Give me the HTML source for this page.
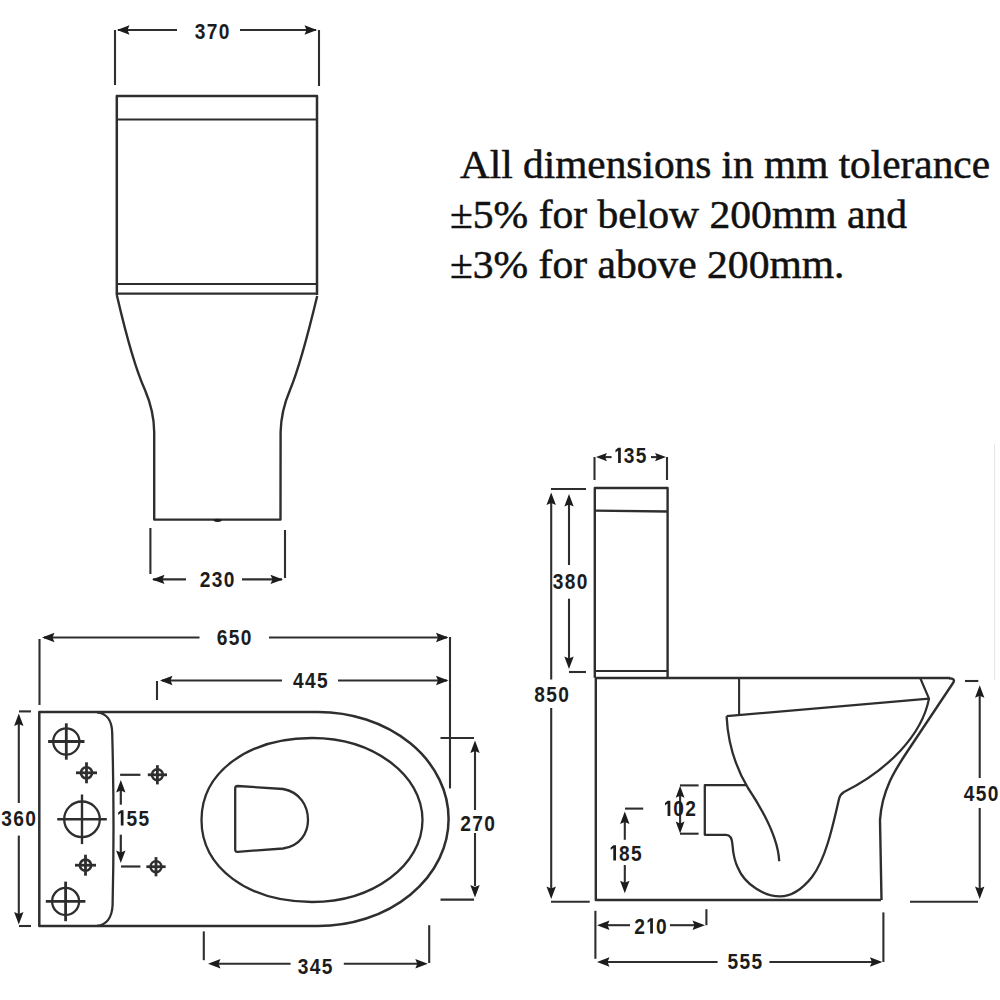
<!DOCTYPE html>
<html><head><meta charset="utf-8"><style>
html,body{margin:0;padding:0;background:#fff;}
svg{display:block;}
text{fill:#1c1c1c;stroke:none;font-family:"Liberation Sans",sans-serif;font-weight:bold;}
text.n{font-family:"Liberation Serif",serif;font-weight:normal;stroke:#111;stroke-width:0.5px;fill:#111;}
</style></head><body>
<svg width="1000" height="1000" viewBox="0 0 1000 1000" stroke="#2e2e2e" fill="none" stroke-linecap="butt" stroke-linejoin="round">
<line x1="115" y1="30" x2="115" y2="85" stroke-width="2.1"/>
<line x1="319" y1="30" x2="319" y2="86" stroke-width="2.1"/>
<line x1="118" y1="30" x2="177" y2="30" stroke-width="2.1"/>
<line x1="240" y1="30" x2="316" y2="30" stroke-width="2.1"/>
<polygon points="117.0,30.0 129.5,25.3 127.5,30.0 129.5,34.7" fill="#1c1c1c" stroke="none"/>
<polygon points="317.0,30.0 304.5,34.7 306.5,30.0 304.5,25.3" fill="#1c1c1c" stroke="none"/>
<text transform="translate(200.00,39.3) scale(0.87,1)" font-size="22" text-anchor="middle">3</text>
<text transform="translate(212.00,39.3) scale(0.87,1)" font-size="22" text-anchor="middle">7</text>
<text transform="translate(224.00,39.3) scale(0.87,1)" font-size="22" text-anchor="middle">0</text>
<path d="M116.8,295 L116.8,96 L317,96 L317,295" stroke-width="2.5" fill="none"/>
<line x1="116.8" y1="119.5" x2="317" y2="119.5" stroke-width="2.1"/>
<line x1="116.8" y1="284" x2="317" y2="284" stroke-width="2.1"/>
<path d="M116.8,293.6 L317,293.6" stroke-width="2.1" fill="none"/>
<path d="M116.8,295 C124,326 134,366 145,390 C151,404 154,416 154.2,432 L154.2,519.6 L280.5,519.6 L280.6,432 C281,416 284,404 290,390 C300,366 310,326 317.2,296" stroke-width="2.4" fill="none"/>
<ellipse cx="217.6" cy="520.3" rx="4" ry="1.6" fill="#1c1c1c" stroke="none"/>
<line x1="150.4" y1="528" x2="150.4" y2="574" stroke-width="2.1"/>
<line x1="285" y1="530" x2="285" y2="578" stroke-width="2.1"/>
<line x1="153" y1="579.4" x2="186" y2="579.4" stroke-width="2.1"/>
<line x1="242" y1="579.4" x2="282" y2="579.4" stroke-width="2.1"/>
<polygon points="152.0,579.4 164.5,574.7 162.5,579.4 164.5,584.1" fill="#1c1c1c" stroke="none"/>
<polygon points="283.0,579.4 270.5,584.1 272.5,579.4 270.5,574.7" fill="#1c1c1c" stroke="none"/>
<text transform="translate(205.00,587) scale(0.87,1)" font-size="22" text-anchor="middle">2</text>
<text transform="translate(217.00,587) scale(0.87,1)" font-size="22" text-anchor="middle">3</text>
<text transform="translate(229.00,587) scale(0.87,1)" font-size="22" text-anchor="middle">0</text>
<line x1="994.6" y1="444" x2="994.6" y2="680" stroke="#e4e4e4" stroke-width="1"/>
<text class="n" x="460" y="178" font-size="39" textLength="530" lengthAdjust="spacingAndGlyphs">All dimensions in mm tolerance</text>
<text class="n" x="450" y="228" font-size="39" textLength="457" lengthAdjust="spacingAndGlyphs">±5% for below 200mm and</text>
<text class="n" x="450" y="278" font-size="39" textLength="394.5" lengthAdjust="spacingAndGlyphs">±3% for above 200mm.</text>
<line x1="39.5" y1="639" x2="39.5" y2="705" stroke-width="2.1"/>
<line x1="44" y1="637.5" x2="199.5" y2="637.5" stroke-width="2.1"/>
<line x1="269" y1="637.5" x2="447" y2="637.5" stroke-width="2.1"/>
<polygon points="42.0,637.5 54.5,632.8 52.5,637.5 54.5,642.2" fill="#1c1c1c" stroke="none"/>
<polygon points="448.5,637.5 436.0,642.2 438.0,637.5 436.0,632.8" fill="#1c1c1c" stroke="none"/>
<text transform="translate(222.00,644.5) scale(0.87,1)" font-size="22" text-anchor="middle">6</text>
<text transform="translate(234.00,644.5) scale(0.87,1)" font-size="22" text-anchor="middle">5</text>
<text transform="translate(246.00,644.5) scale(0.87,1)" font-size="22" text-anchor="middle">0</text>
<line x1="450" y1="637" x2="450" y2="788.4" stroke-width="2.1"/>
<line x1="157" y1="681" x2="157" y2="700" stroke-width="2.1"/>
<line x1="162" y1="680.5" x2="282" y2="680.5" stroke-width="2.1"/>
<line x1="338" y1="680.5" x2="447" y2="680.5" stroke-width="2.1"/>
<polygon points="160.0,680.5 172.5,675.8 170.5,680.5 172.5,685.2" fill="#1c1c1c" stroke="none"/>
<polygon points="448.5,680.5 436.0,685.2 438.0,680.5 436.0,675.8" fill="#1c1c1c" stroke="none"/>
<text transform="translate(298.20,688) scale(0.87,1)" font-size="22" text-anchor="middle">4</text>
<text transform="translate(310.20,688) scale(0.87,1)" font-size="22" text-anchor="middle">4</text>
<text transform="translate(322.20,688) scale(0.87,1)" font-size="22" text-anchor="middle">5</text>
<path d="M39.3,712 L318,712 A130.6,107 0 0 1 318,926 L39.3,926 Z" stroke-width="2.5" fill="none"/>
<path d="M97,712.3 C106,713 112,720 112.2,733 Q114.6,820 112.6,905 C112,918 106,925 97,925.8" stroke-width="2.3" fill="none"/>
<circle cx="66.3" cy="741.5" r="13.1" stroke-width="2.3"/>
<line x1="48.099999999999994" y1="741.5" x2="84.5" y2="741.5" stroke-width="2.8"/>
<line x1="66.3" y1="723.3" x2="66.3" y2="759.7" stroke-width="2.8"/>
<circle cx="82" cy="819.3" r="17.8" stroke-width="2.3"/>
<line x1="57.2" y1="819.3" x2="106.8" y2="819.3" stroke-width="2.4"/>
<line x1="82" y1="794.5" x2="82" y2="844.0999999999999" stroke-width="2.4"/>
<circle cx="65.6" cy="901.4" r="13.5" stroke-width="2.3"/>
<line x1="45.8" y1="901.4" x2="85.39999999999999" y2="901.4" stroke-width="2.8"/>
<line x1="65.6" y1="881.6" x2="65.6" y2="921.1999999999999" stroke-width="2.8"/>
<circle cx="86.5" cy="772.8" r="5.6" stroke-width="2.6"/>
<line x1="76.0" y1="772.8" x2="97.0" y2="772.8" stroke-width="2.8"/>
<line x1="86.5" y1="762.3" x2="86.5" y2="783.3" stroke-width="2.8"/>
<circle cx="85.5" cy="865.2" r="5.6" stroke-width="2.6"/>
<line x1="75.0" y1="865.2" x2="96.0" y2="865.2" stroke-width="2.8"/>
<line x1="85.5" y1="854.7" x2="85.5" y2="875.7" stroke-width="2.8"/>
<circle cx="157.4" cy="774.8" r="5.4" stroke-width="2.6"/>
<line x1="147.8" y1="774.8" x2="167.0" y2="774.8" stroke-width="2.8"/>
<line x1="157.4" y1="765.1999999999999" x2="157.4" y2="784.4" stroke-width="2.8"/>
<circle cx="156" cy="866.7" r="5.4" stroke-width="2.6"/>
<line x1="146.4" y1="866.7" x2="165.6" y2="866.7" stroke-width="2.8"/>
<line x1="156" y1="857.1" x2="156" y2="876.3000000000001" stroke-width="2.8"/>
<line x1="120.1" y1="774.8" x2="140.4" y2="774.8" stroke-width="2.2"/>
<line x1="121" y1="866.5" x2="140.4" y2="866.5" stroke-width="2.2"/>
<line x1="120.8" y1="790" x2="120.8" y2="804.7" stroke-width="2.2"/>
<line x1="120.8" y1="834.7" x2="120.8" y2="853" stroke-width="2.2"/>
<polygon points="120.8,780.0 125.5,792.5 120.8,790.5 116.1,792.5" fill="#1c1c1c" stroke="none"/>
<polygon points="120.8,863.0 116.1,850.5 120.8,852.5 125.5,850.5" fill="#1c1c1c" stroke="none"/>
<path transform="translate(116.16,825.5) scale(0.01074,-0.01074)" d="M430,0 V1160 L190,985 V1200 L440,1409 H685 V0 Z" fill="#1c1c1c" stroke="none"/>
<text transform="translate(131.84,825.5) scale(0.87,1)" font-size="22" text-anchor="middle">5</text>
<text transform="translate(143.84,825.5) scale(0.87,1)" font-size="22" text-anchor="middle">5</text>
<line x1="19" y1="711.4" x2="31" y2="711.4" stroke-width="2.1"/>
<line x1="19" y1="926" x2="31" y2="926" stroke-width="2.1"/>
<line x1="18.8" y1="724" x2="18.8" y2="803" stroke-width="2.1"/>
<line x1="18.8" y1="835.6" x2="18.8" y2="914" stroke-width="2.1"/>
<polygon points="18.8,713.6 23.5,726.1 18.8,724.1 14.1,726.1" fill="#1c1c1c" stroke="none"/>
<polygon points="18.8,924.5 14.1,912.0 18.8,914.0 23.5,912.0" fill="#1c1c1c" stroke="none"/>
<text transform="translate(6.60,826) scale(0.87,1)" font-size="22" text-anchor="middle">3</text>
<text transform="translate(18.60,826) scale(0.87,1)" font-size="22" text-anchor="middle">6</text>
<text transform="translate(30.60,826) scale(0.87,1)" font-size="22" text-anchor="middle">0</text>
<path d="M312,738 C373.03,738 422.5,774.71 422.5,820 C422.5,865.29 373.03,902 312,902 C247.91,902 201.5,867.56 201.5,820 C201.5,772.44 247.91,738 312,738 Z" stroke-width="2.3" fill="none"/>
<path d="M237.5,786 Q235.2,786 235.2,788.5 L235.2,849.5 Q235.2,852 237.5,851.8 L283,848.5 C300,846 308,833 308,820 C308,806 300,792 283,789 Z" stroke-width="2.3" fill="none"/>
<line x1="440.5" y1="738" x2="474" y2="738" stroke-width="2.1"/>
<line x1="440.5" y1="899.6" x2="474" y2="899.6" stroke-width="2.1"/>
<line x1="475" y1="750" x2="475" y2="810" stroke-width="2.1"/>
<line x1="475" y1="833" x2="475" y2="886" stroke-width="2.1"/>
<polygon points="475.0,740.5 479.7,753.0 475.0,751.0 470.3,753.0" fill="#1c1c1c" stroke="none"/>
<polygon points="475.0,897.5 470.3,885.0 475.0,887.0 479.7,885.0" fill="#1c1c1c" stroke="none"/>
<text transform="translate(465.50,830.5) scale(0.87,1)" font-size="22" text-anchor="middle">2</text>
<text transform="translate(477.50,830.5) scale(0.87,1)" font-size="22" text-anchor="middle">7</text>
<text transform="translate(489.50,830.5) scale(0.87,1)" font-size="22" text-anchor="middle">0</text>
<line x1="203.8" y1="931.4" x2="203.8" y2="960.2" stroke-width="2.1"/>
<line x1="429.2" y1="925.2" x2="429.2" y2="963" stroke-width="2.1"/>
<line x1="212" y1="963.8" x2="290.6" y2="963.8" stroke-width="2.1"/>
<line x1="343.8" y1="963.8" x2="424" y2="963.8" stroke-width="2.1"/>
<polygon points="208.0,963.8 220.5,959.1 218.5,963.8 220.5,968.5" fill="#1c1c1c" stroke="none"/>
<polygon points="427.8,963.8 415.3,968.5 417.3,963.8 415.3,959.1" fill="#1c1c1c" stroke="none"/>
<text transform="translate(303.00,973.5) scale(0.87,1)" font-size="22" text-anchor="middle">3</text>
<text transform="translate(315.00,973.5) scale(0.87,1)" font-size="22" text-anchor="middle">4</text>
<text transform="translate(327.00,973.5) scale(0.87,1)" font-size="22" text-anchor="middle">5</text>
<line x1="594.5" y1="457" x2="594.5" y2="480" stroke-width="2.1"/>
<line x1="667" y1="457" x2="667" y2="480" stroke-width="2.1"/>
<line x1="600" y1="457.1" x2="611.6" y2="457.1" stroke-width="2.1"/>
<line x1="651" y1="457.1" x2="662" y2="457.1" stroke-width="2.1"/>
<polygon points="596.0,457.1 607.0,452.9 605.0,457.1 607.0,461.3" fill="#1c1c1c" stroke="none"/>
<polygon points="666.0,457.1 655.0,461.3 657.0,457.1 655.0,452.9" fill="#1c1c1c" stroke="none"/>
<path transform="translate(613.46,463) scale(0.01074,-0.01074)" d="M430,0 V1160 L190,985 V1200 L440,1409 H685 V0 Z" fill="#1c1c1c" stroke="none"/>
<text transform="translate(629.14,463) scale(0.87,1)" font-size="22" text-anchor="middle">3</text>
<text transform="translate(641.14,463) scale(0.87,1)" font-size="22" text-anchor="middle">5</text>
<path d="M594.8,677.8 L594.8,488 L667.6,488 L667.6,677.8" stroke-width="2.4" fill="none"/>
<line x1="594.8" y1="510.6" x2="667.6" y2="511.5" stroke-width="2.3"/>
<line x1="594.8" y1="671" x2="667.6" y2="671" stroke-width="2.1"/>
<line x1="551" y1="489" x2="586" y2="489" stroke-width="2.1"/>
<line x1="551" y1="901.7" x2="589.7" y2="901.7" stroke-width="2.1"/>
<line x1="551.2" y1="502" x2="551.2" y2="679.5" stroke-width="2.1"/>
<line x1="551.2" y1="708" x2="551.2" y2="889" stroke-width="2.1"/>
<polygon points="551.2,492.5 555.9,505.0 551.2,503.0 546.5,505.0" fill="#1c1c1c" stroke="none"/>
<polygon points="551.2,899.0 546.5,886.5 551.2,888.5 555.9,886.5" fill="#1c1c1c" stroke="none"/>
<text transform="translate(539.50,702) scale(0.87,1)" font-size="22" text-anchor="middle">8</text>
<text transform="translate(551.50,702) scale(0.87,1)" font-size="22" text-anchor="middle">5</text>
<text transform="translate(563.50,702) scale(0.87,1)" font-size="22" text-anchor="middle">0</text>
<line x1="569" y1="672" x2="586" y2="672" stroke-width="2.1"/>
<line x1="569" y1="502" x2="569" y2="565" stroke-width="2.1"/>
<line x1="569" y1="598.7" x2="569" y2="659" stroke-width="2.1"/>
<polygon points="569.0,494.0 573.7,506.5 569.0,504.5 564.3,506.5" fill="#1c1c1c" stroke="none"/>
<polygon points="569.0,669.0 564.3,656.5 569.0,658.5 573.7,656.5" fill="#1c1c1c" stroke="none"/>
<text transform="translate(558.00,588.5) scale(0.87,1)" font-size="22" text-anchor="middle">3</text>
<text transform="translate(570.00,588.5) scale(0.87,1)" font-size="22" text-anchor="middle">8</text>
<text transform="translate(582.00,588.5) scale(0.87,1)" font-size="22" text-anchor="middle">0</text>
<path d="M594.8,678 L950,678 M595.8,678 L595.8,900 L881,900" stroke-width="2.4" fill="none"/>
<line x1="625" y1="808.6" x2="643.2" y2="808.6" stroke-width="2.1"/>
<line x1="624.8" y1="820" x2="624.8" y2="839.8" stroke-width="2.1"/>
<line x1="624.8" y1="865" x2="624.8" y2="883" stroke-width="2.1"/>
<polygon points="624.8,811.5 629.5,824.0 624.8,822.0 620.1,824.0" fill="#1c1c1c" stroke="none"/>
<polygon points="624.8,893.2 620.1,880.7 624.8,882.7 629.5,880.7" fill="#1c1c1c" stroke="none"/>
<path transform="translate(608.66,860.5) scale(0.01074,-0.01074)" d="M430,0 V1160 L190,985 V1200 L440,1409 H685 V0 Z" fill="#1c1c1c" stroke="none"/>
<text transform="translate(624.34,860.5) scale(0.87,1)" font-size="22" text-anchor="middle">8</text>
<text transform="translate(636.34,860.5) scale(0.87,1)" font-size="22" text-anchor="middle">5</text>
<line x1="680" y1="785.4" x2="698.6" y2="785.4" stroke-width="2.1"/>
<line x1="680" y1="833.7" x2="698.6" y2="833.7" stroke-width="2.1"/>
<line x1="680.1" y1="790" x2="680.1" y2="829" stroke-width="2.1"/>
<polygon points="680.1,785.8 684.5,797.8 680.1,795.8 675.7,797.8" fill="#1c1c1c" stroke="none"/>
<polygon points="680.1,833.5 675.7,821.5 680.1,823.5 684.5,821.5" fill="#1c1c1c" stroke="none"/>
<path transform="translate(662.96,816) scale(0.01074,-0.01074)" d="M430,0 V1160 L190,985 V1200 L440,1409 H685 V0 Z" fill="#1c1c1c" stroke="none"/>
<text transform="translate(678.64,816) scale(0.87,1)" font-size="22" text-anchor="middle">0</text>
<text transform="translate(690.64,816) scale(0.87,1)" font-size="22" text-anchor="middle">2</text>
<line x1="595.4" y1="910.8" x2="595.4" y2="958.8" stroke-width="2.1"/>
<line x1="706.4" y1="909.2" x2="706.4" y2="925.2" stroke-width="2.1"/>
<line x1="601" y1="925.2" x2="630" y2="925.2" stroke-width="2.1"/>
<line x1="670" y1="925.2" x2="700" y2="925.2" stroke-width="2.1"/>
<polygon points="597.0,925.2 609.5,920.5 607.5,925.2 609.5,929.9" fill="#1c1c1c" stroke="none"/>
<polygon points="705.0,925.2 692.5,929.9 694.5,925.2 692.5,920.5" fill="#1c1c1c" stroke="none"/>
<text transform="translate(639.56,933.5) scale(0.87,1)" font-size="22" text-anchor="middle">2</text>
<path transform="translate(645.56,933.5) scale(0.01074,-0.01074)" d="M430,0 V1160 L190,985 V1200 L440,1409 H685 V0 Z" fill="#1c1c1c" stroke="none"/>
<text transform="translate(661.24,933.5) scale(0.87,1)" font-size="22" text-anchor="middle">0</text>
<line x1="883.4" y1="912.4" x2="883.4" y2="962" stroke-width="2.1"/>
<line x1="601" y1="962" x2="717.6" y2="962" stroke-width="2.1"/>
<line x1="769.4" y1="962" x2="878" y2="962" stroke-width="2.1"/>
<polygon points="597.0,962.0 609.5,957.3 607.5,962.0 609.5,966.7" fill="#1c1c1c" stroke="none"/>
<polygon points="882.4,962.0 869.9,966.7 871.9,962.0 869.9,957.3" fill="#1c1c1c" stroke="none"/>
<text transform="translate(732.80,969) scale(0.87,1)" font-size="22" text-anchor="middle">5</text>
<text transform="translate(744.80,969) scale(0.87,1)" font-size="22" text-anchor="middle">5</text>
<text transform="translate(756.80,969) scale(0.87,1)" font-size="22" text-anchor="middle">5</text>
<line x1="965" y1="681" x2="978.3" y2="681" stroke-width="2.1"/>
<line x1="910" y1="901.7" x2="978" y2="901.7" stroke-width="2.1"/>
<line x1="979.7" y1="695" x2="979.7" y2="778" stroke-width="2.1"/>
<line x1="979.7" y1="808" x2="979.7" y2="890" stroke-width="2.1"/>
<polygon points="979.7,685.2 984.4,697.7 979.7,695.7 975.0,697.7" fill="#1c1c1c" stroke="none"/>
<polygon points="979.7,899.0 975.0,886.5 979.7,888.5 984.4,886.5" fill="#1c1c1c" stroke="none"/>
<text transform="translate(969.00,801) scale(0.87,1)" font-size="22" text-anchor="middle">4</text>
<text transform="translate(981.00,801) scale(0.87,1)" font-size="22" text-anchor="middle">5</text>
<text transform="translate(993.00,801) scale(0.87,1)" font-size="22" text-anchor="middle">0</text>
<line x1="739.1" y1="678" x2="739.1" y2="714" stroke-width="2.1"/>
<path d="M949,678.2 Q956,678.5 953,683 L907,752 C895,770 882,790 880,820 L881.5,900" stroke-width="2.4" fill="none"/>
<path d="M920.2,678 L929,698.6 L726.6,716.2" stroke-width="2.2" fill="none"/>
<path d="M929,698.6 C922,735 888,770 844,792 Q840,794.5 839,799 C832,830 825,860 812,877 C800,892 790,896.4 780,896.4 C765,896.4 745,885 738,868 C734,860 733,852 732.5,845 Q732,834.8 726,834.8 L704.8,834.8 L704.8,785.2 L746.4,785.2" stroke-width="2.3" fill="none"/>
<path d="M726.6,716.2 C728,745 736,768 748,788 C760,806 778,835 779.2,861.2" stroke-width="2.3" fill="none"/>
</svg>
</body></html>
